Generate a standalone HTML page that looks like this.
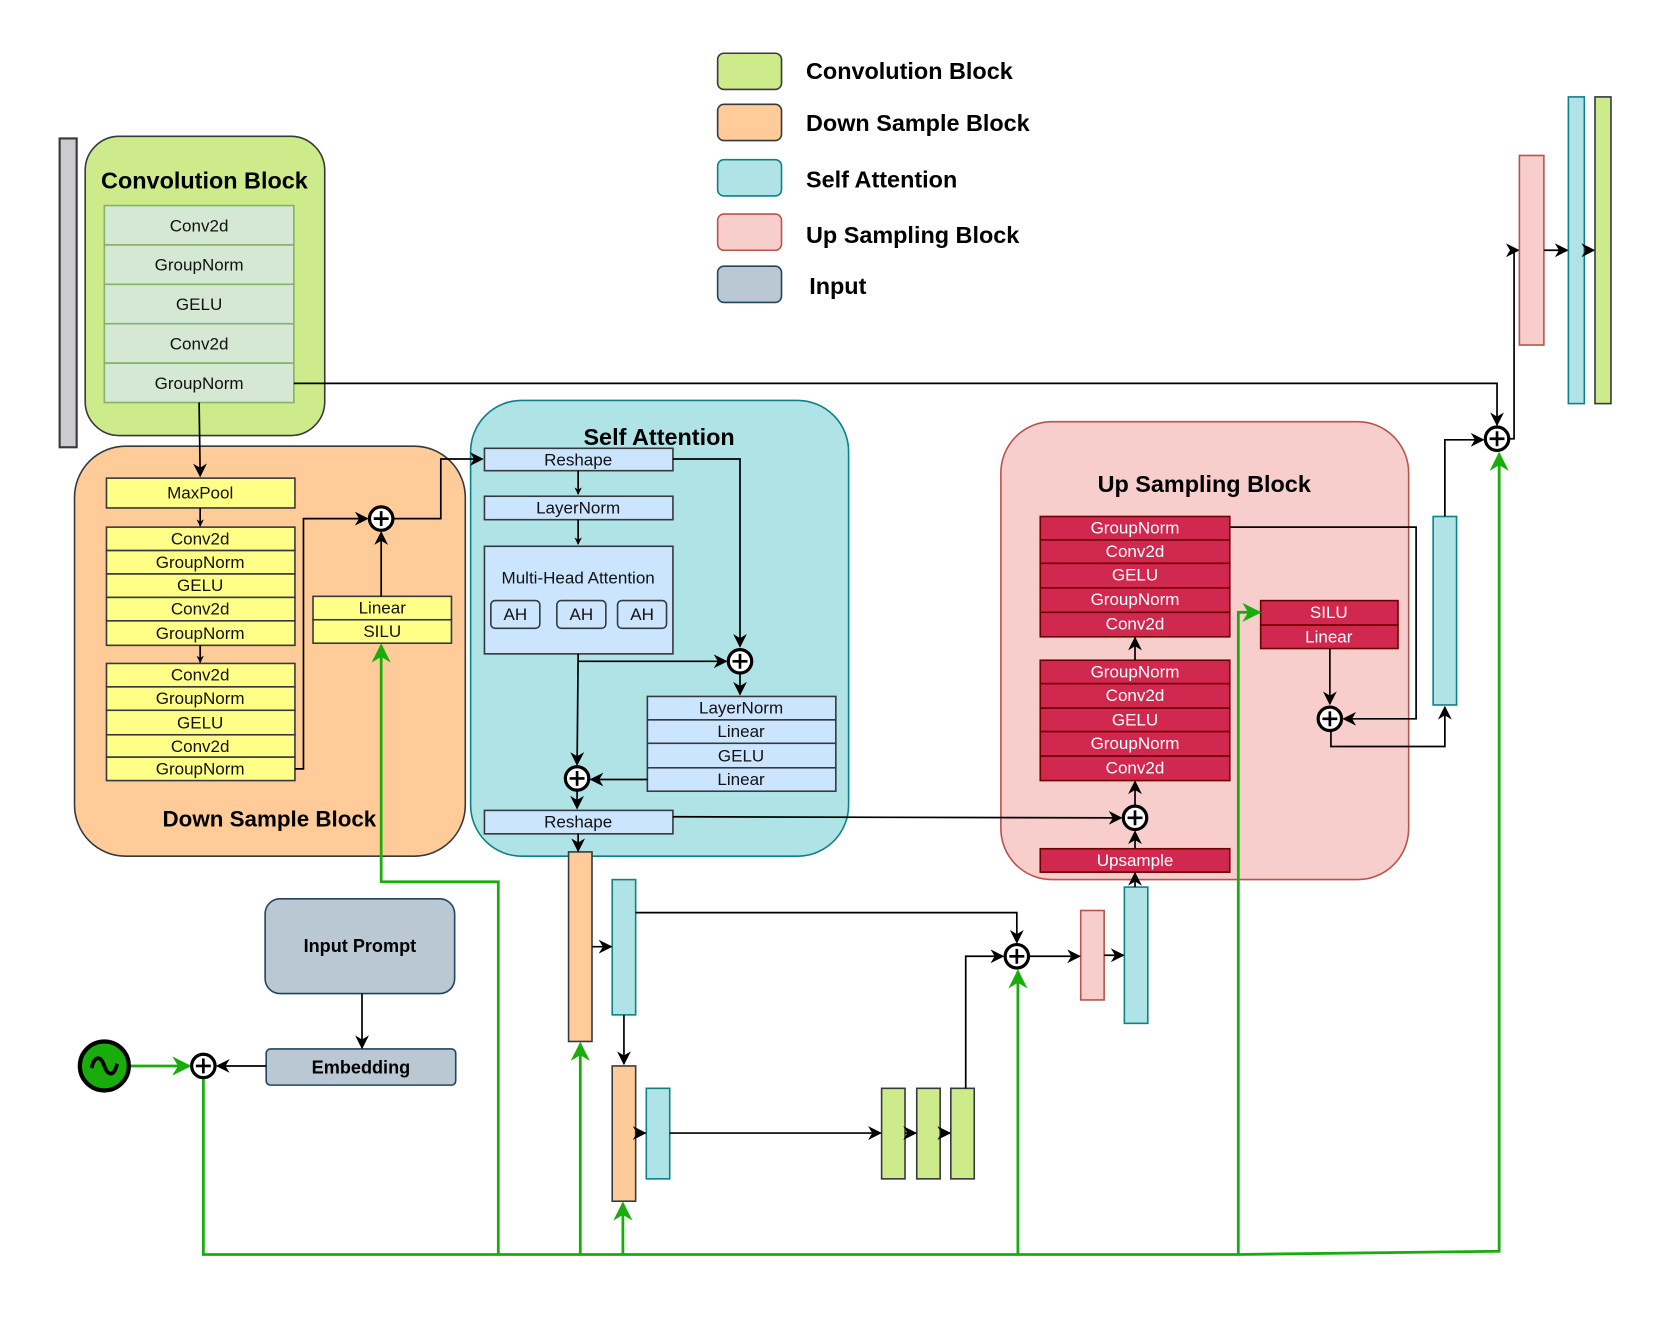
<!DOCTYPE html>
<html><head><meta charset="utf-8"><style>
html,body{margin:0;padding:0;background:#fff;width:1661px;height:1329px;overflow:hidden}
svg text{font-family:"Liberation Sans",Arial,sans-serif}
.b{font-weight:bold;fill:#000}
.c{fill:#111;font-size:16px;text-anchor:middle;dominant-baseline:central}
.w{fill:#fff;font-size:16px;text-anchor:middle;dominant-baseline:central}
.l{stroke:#000;stroke-width:1.6;fill:none}
.g{stroke:#19ad0c;stroke-width:2.6;fill:none}
</style></head><body>
<svg width="1661" height="1329" viewBox="0 0 1560 1248" preserveAspectRatio="none" xmlns="http://www.w3.org/2000/svg">
<defs>
<marker id="a" viewBox="0 0 10 10" refX="9" refY="5" markerWidth="7" markerHeight="7" orient="auto" markerUnits="userSpaceOnUse"><path d="M0,0 L10,5 L0,10 L3,5z" fill="#000"/></marker>
<marker id="ab" viewBox="0 0 10 10" refX="9" refY="5" markerWidth="13" markerHeight="13" orient="auto" markerUnits="userSpaceOnUse"><path d="M0,0 L10,5 L0,10 L3,5z" fill="#000"/></marker>
<marker id="ag" viewBox="0 0 10 10" refX="9" refY="5" markerWidth="18" markerHeight="18" orient="auto" markerUnits="userSpaceOnUse"><path d="M0,0 L10,5 L0,10 L3,5z" fill="#19ad0c"/></marker>
<g id="p"><circle r="11" fill="#fff" stroke="#000" stroke-width="3"/><path d="M-7,0H7M0,-7V7" stroke="#000" stroke-width="2.5"/></g>
</defs>

<!-- Legend -->
<rect x="674" y="50" width="60" height="34" rx="6" fill="#cdeb8b" stroke="#36393d" stroke-width="1.5"/>
<rect x="674" y="98" width="60" height="34" rx="6" fill="#ffcc99" stroke="#36393d" stroke-width="1.5"/>
<rect x="674" y="150" width="60" height="34" rx="6" fill="#b0e3e6" stroke="#0e8088" stroke-width="1.5"/>
<rect x="674" y="201" width="60" height="34" rx="6" fill="#f8cecc" stroke="#b85450" stroke-width="1.5"/>
<rect x="674" y="250" width="60" height="34" rx="6" fill="#bac8d3" stroke="#23445d" stroke-width="1.5"/>
<text class="b" x="757" y="74" font-size="22">Convolution Block</text>
<text class="b" x="757" y="123" font-size="22">Down Sample Block</text>
<text class="b" x="757" y="176" font-size="22">Self Attention</text>
<text class="b" x="757" y="228" font-size="22">Up Sampling Block</text>
<text class="b" x="760" y="276" font-size="22">Input</text>

<!-- Conv block -->
<rect x="56" y="130" width="16" height="290" fill="#cccccc" stroke="#36393d" stroke-width="2"/>
<rect x="80" y="128" width="225" height="281" rx="32" fill="#cdeb8b" stroke="#36393d" stroke-width="1.5"/>
<text class="b" x="192" y="177" font-size="22" text-anchor="middle">Convolution Block</text>
<g fill="#d5e8d4" stroke="#82b366" stroke-width="1.5">
<rect x="98" y="193" width="178" height="37"/><rect x="98" y="230" width="178" height="37"/><rect x="98" y="267" width="178" height="37"/><rect x="98" y="304" width="178" height="37"/><rect x="98" y="341" width="178" height="37"/></g>
<text class="c" x="187" y="212">Conv2d</text><text class="c" x="187" y="249">GroupNorm</text><text class="c" x="187" y="286">GELU</text><text class="c" x="187" y="323">Conv2d</text><text class="c" x="187" y="360">GroupNorm</text>

<!-- Down sample -->
<rect x="70" y="419" width="367" height="385" rx="48" fill="#ffcc99" stroke="#36393d" stroke-width="1.5"/>
<text class="b" x="253" y="776" font-size="21" text-anchor="middle">Down Sample Block</text>
<g fill="#ffff88" stroke="#36393d" stroke-width="1.5">
<rect x="100" y="449" width="177" height="28"/>
<rect x="100" y="495" width="177" height="22"/><rect x="100" y="517" width="177" height="22"/><rect x="100" y="539" width="177" height="22"/><rect x="100" y="561" width="177" height="22"/><rect x="100" y="583" width="177" height="23"/>
<rect x="100" y="623" width="177" height="22"/><rect x="100" y="645" width="177" height="22"/><rect x="100" y="667" width="177" height="23"/><rect x="100" y="690" width="177" height="21"/><rect x="100" y="711" width="177" height="22"/>
<rect x="294" y="560" width="130" height="22"/><rect x="294" y="582" width="130" height="22"/></g>
<text class="c" x="188" y="463">MaxPool</text>
<text class="c" x="188" y="506">Conv2d</text><text class="c" x="188" y="528">GroupNorm</text><text class="c" x="188" y="550">GELU</text><text class="c" x="188" y="572">Conv2d</text><text class="c" x="188" y="595">GroupNorm</text>
<text class="c" x="188" y="634">Conv2d</text><text class="c" x="188" y="656">GroupNorm</text><text class="c" x="188" y="679">GELU</text><text class="c" x="188" y="701">Conv2d</text><text class="c" x="188" y="722">GroupNorm</text>
<text class="c" x="359" y="571">Linear</text><text class="c" x="359" y="593">SILU</text>
<path class="l" d="M187,378 L188,447" marker-end="url(#ab)"/>
<path class="l" d="M188,477 V494" marker-end="url(#a)"/>
<path class="l" d="M188,606 V622" marker-end="url(#a)"/>
<path class="l" d="M277,722 H285 V487 H345" marker-end="url(#ab)"/>
<path class="l" d="M358,560 V500" marker-end="url(#ab)"/>

<!-- Self attention -->
<rect x="442" y="376" width="355" height="428" rx="48" fill="#b0e3e6" stroke="#0e8088" stroke-width="1.5"/>
<text class="b" x="619" y="418" font-size="22" text-anchor="middle">Self Attention</text>
<g fill="#cce5ff" stroke="#36393d" stroke-width="1.5">
<rect x="455" y="421" width="177" height="21"/><rect x="455" y="466" width="177" height="22"/>
<rect x="455" y="513" width="177" height="101"/>
<rect x="608" y="654" width="177" height="22"/><rect x="608" y="676" width="177" height="22"/><rect x="608" y="698" width="177" height="23"/><rect x="608" y="721" width="177" height="22"/>
<rect x="455" y="761" width="177" height="22"/>
<rect x="461" y="564" width="46" height="26" rx="4"/><rect x="523" y="564" width="46" height="26" rx="4"/><rect x="580" y="564" width="46" height="26" rx="4"/></g>
<text class="c" x="543" y="432">Reshape</text><text class="c" x="543" y="477">LayerNorm</text>
<text class="c" x="543" y="543">Multi-Head Attention</text>
<text class="c" x="484" y="577">AH</text><text class="c" x="546" y="577">AH</text><text class="c" x="603" y="577">AH</text>
<text class="c" x="696" y="665">LayerNorm</text><text class="c" x="696" y="687">Linear</text><text class="c" x="696" y="710">GELU</text><text class="c" x="696" y="732">Linear</text>
<text class="c" x="543" y="772">Reshape</text>
<path class="l" d="M632,431 H695 V607" marker-end="url(#ab)"/>
<path class="l" d="M543,442 V464" marker-end="url(#a)"/>
<path class="l" d="M543,488 V511" marker-end="url(#a)"/>
<path class="l" d="M543,614 L542,718" marker-end="url(#ab)"/>
<path class="l" d="M543,621 H682" marker-end="url(#ab)"/>
<path class="l" d="M695,633 V652" marker-end="url(#ab)"/>
<path class="l" d="M608,732 H555" marker-end="url(#ab)"/>
<path class="l" d="M542,743 V759" marker-end="url(#ab)"/>
<use href="#p" x="695" y="621"/><use href="#p" x="542" y="731"/>

<!-- Up sampling -->
<rect x="940" y="396" width="383" height="430" rx="48" fill="#f8cecc" stroke="#b85450" stroke-width="1.5"/>
<text class="b" x="1131" y="462" font-size="22" text-anchor="middle">Up Sampling Block</text>
<g fill="#d0284f" stroke="#6f0000" stroke-width="1.5">
<rect x="977" y="485" width="178" height="22"/><rect x="977" y="507" width="178" height="22"/><rect x="977" y="529" width="178" height="23"/><rect x="977" y="552" width="178" height="23"/><rect x="977" y="575" width="178" height="23"/>
<rect x="977" y="620" width="178" height="22"/><rect x="977" y="642" width="178" height="23"/><rect x="977" y="665" width="178" height="22"/><rect x="977" y="687" width="178" height="23"/><rect x="977" y="710" width="178" height="23"/>
<rect x="977" y="797" width="178" height="22"/>
<rect x="1184" y="564" width="129" height="23"/><rect x="1184" y="587" width="129" height="22"/></g>
<text class="w" x="1066" y="496">GroupNorm</text><text class="w" x="1066" y="518">Conv2d</text><text class="w" x="1066" y="540">GELU</text><text class="w" x="1066" y="563">GroupNorm</text><text class="w" x="1066" y="586">Conv2d</text>
<text class="w" x="1066" y="631">GroupNorm</text><text class="w" x="1066" y="653">Conv2d</text><text class="w" x="1066" y="676">GELU</text><text class="w" x="1066" y="698">GroupNorm</text><text class="w" x="1066" y="721">Conv2d</text>
<text class="w" x="1066" y="808">Upsample</text>
<text class="w" x="1248" y="575">SILU</text><text class="w" x="1248" y="598">Linear</text>
<path class="l" d="M1066,620 V599" marker-end="url(#ab)"/>
<path class="l" d="M1066,756 V734" marker-end="url(#ab)"/>
<path class="l" d="M1066,797 V781" marker-end="url(#ab)"/>
<path class="l" d="M1155,495 H1330 V675 H1262" marker-end="url(#ab)"/>
<path class="l" d="M1249,609 L1249,661" marker-end="url(#ab)"/>
<path class="l" d="M1250,687 V701 H1357 V664" marker-end="url(#ab)"/>
<rect x="1346" y="485" width="22" height="177" fill="#b0e3e6" stroke="#0e8088" stroke-width="1.5"/>
<path class="l" d="M1357,485 V413 H1393" marker-end="url(#ab)"/>
<path class="l" d="M276,360 H1406 V399" marker-end="url(#ab)"/>
<path class="l" d="M1418,412 H1422 V235 H1426" marker-end="url(#ab)"/>
<rect x="1427" y="146" width="23" height="178" fill="#f8cecc" stroke="#b85450" stroke-width="1.5"/>
<path class="l" d="M1450,235 H1472" marker-end="url(#ab)"/>
<rect x="1473" y="91" width="15" height="288" fill="#b0e3e6" stroke="#0e8088" stroke-width="1.5"/>
<path class="l" d="M1488,235 H1497" marker-end="url(#ab)"/>
<rect x="1498" y="91" width="15" height="288" fill="#cdeb8b" stroke="#36393d" stroke-width="1.5"/>
<use href="#p" x="1249" y="675"/><use href="#p" x="1406" y="412"/>

<!-- Cross-box connectors -->
<path class="l" d="M369,487 H414 V431 H453" marker-end="url(#ab)"/>
<path class="l" d="M632,767 L1053,768" marker-end="url(#ab)"/>
<use href="#p" x="358" y="487"/><use href="#p" x="1066" y="768"/>

<!-- Bottom pipeline -->
<rect x="534" y="800" width="22" height="178" fill="#ffcc99" stroke="#36393d" stroke-width="1.5"/>
<rect x="575" y="826" width="22" height="127" fill="#b0e3e6" stroke="#0e8088" stroke-width="1.5"/>
<rect x="575" y="1001" width="22" height="127" fill="#ffcc99" stroke="#36393d" stroke-width="1.5"/>
<rect x="607" y="1022" width="22" height="85" fill="#b0e3e6" stroke="#0e8088" stroke-width="1.5"/>
<rect x="828" y="1022" width="22" height="85" fill="#cdeb8b" stroke="#36393d" stroke-width="1.5"/>
<rect x="861" y="1022" width="22" height="85" fill="#cdeb8b" stroke="#36393d" stroke-width="1.5"/>
<rect x="893" y="1022" width="22" height="85" fill="#cdeb8b" stroke="#36393d" stroke-width="1.5"/>
<rect x="1015" y="855" width="22" height="84" fill="#f8cecc" stroke="#b85450" stroke-width="1.5"/>
<rect x="1056" y="833" width="22" height="128" fill="#b0e3e6" stroke="#0e8088" stroke-width="1.5"/>
<path class="l" d="M543,783 V799" marker-end="url(#ab)"/>
<path class="l" d="M556,889 H574" marker-end="url(#ab)"/>
<path class="l" d="M597,857 H955 V885" marker-end="url(#ab)"/>
<path class="l" d="M586,953 V999" marker-end="url(#ab)"/>
<path class="l" d="M597,1064 H606" marker-end="url(#ab)"/>
<path class="l" d="M629,1064 H827" marker-end="url(#ab)"/>
<path class="l" d="M850,1064 H860" marker-end="url(#ab)"/>
<path class="l" d="M883,1064 H892" marker-end="url(#ab)"/>
<path class="l" d="M907,1022 V898 H942" marker-end="url(#ab)"/>
<path class="l" d="M967,898 H1014" marker-end="url(#ab)"/>
<path class="l" d="M1037,897 H1055" marker-end="url(#ab)"/>
<path class="l" d="M1066,833 V820" marker-end="url(#ab)"/>
<use href="#p" x="955" y="898"/>

<!-- Input -->
<rect x="249" y="844" width="178" height="89" rx="14" fill="#bac8d3" stroke="#23445d" stroke-width="1.5"/>
<text class="b" x="338" y="894" font-size="17" text-anchor="middle">Input Prompt</text>
<rect x="250" y="985" width="178" height="34" rx="4" fill="#bac8d3" stroke="#23445d" stroke-width="1.5"/>
<text class="b" x="339" y="1008" font-size="17" text-anchor="middle">Embedding</text>
<path class="l" d="M340,933 V984" marker-end="url(#ab)"/>
<path class="l" d="M250,1001 H204" marker-end="url(#ab)"/>

<!-- Green -->
<path class="g" d="M122,1001 H178" marker-end="url(#ag)"/>
<path class="g" d="M191,1013 V1178 H1163 L1408,1175 V426" marker-end="url(#ag)"/>
<path class="g" d="M468,1178 V828 H358 V606" marker-end="url(#ag)"/>
<path class="g" d="M545,1178 V980" marker-end="url(#ag)"/>
<path class="g" d="M585,1178 V1130" marker-end="url(#ag)"/>
<path class="g" d="M956,1178 V912" marker-end="url(#ag)"/>
<path class="g" d="M1163,1178 V575 H1183" marker-end="url(#ag)"/>
<use href="#p" x="191" y="1001"/>
<circle cx="98" cy="1001" r="23" fill="#19ad0c" stroke="#000" stroke-width="4"/>
<path d="M86,1003 C89,990 95,992 98,1001 C101,1010 107,1012 110,999" stroke="#000" stroke-width="3.5" fill="none"/>
</svg>
</body></html>
